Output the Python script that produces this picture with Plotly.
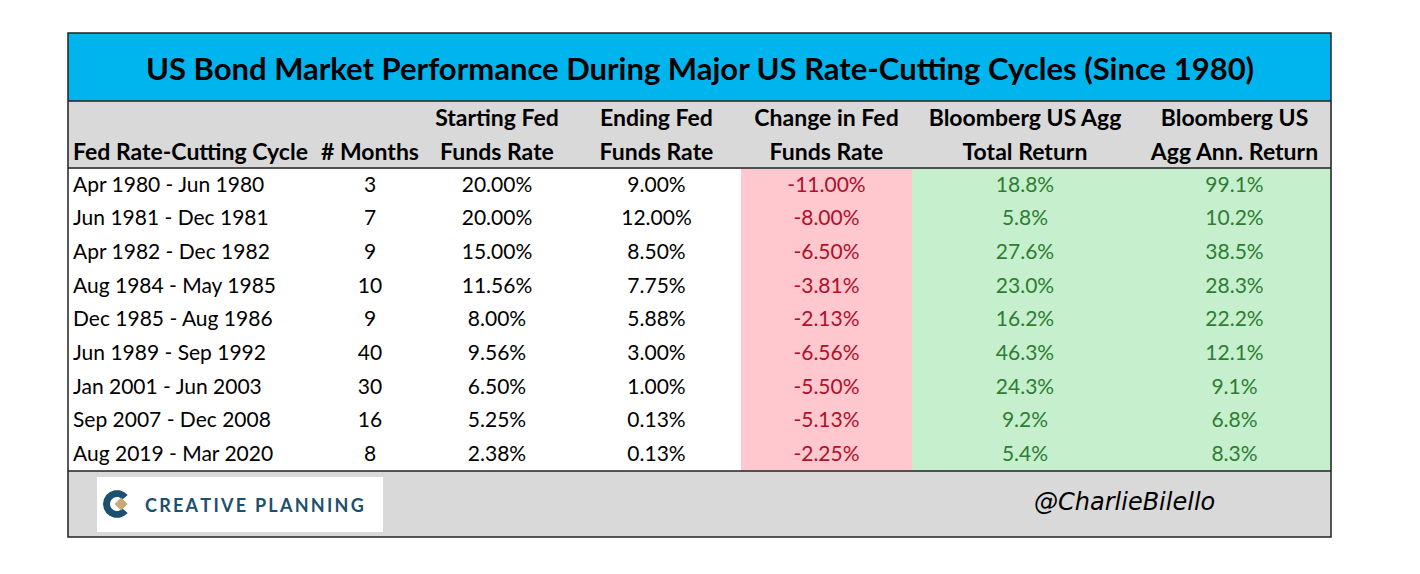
import math
import plotly.graph_objects as go

# ---------------- data ----------------
title = "US Bond Market Performance During Major US Rate-Cutting Cycles (Since 1980)"
header_top = ["", "", "Starting Fed", "Ending Fed", "Change in Fed",
              "Bloomberg US Agg", "Bloomberg US"]
header_bottom = ["Fed Rate-Cutting Cycle", "# Months", "Funds Rate", "Funds Rate",
                 "Funds Rate", "Total Return", "Agg Ann. Return"]
cycles = ["Apr 1980 - Jun 1980", "Jun 1981 - Dec 1981", "Apr 1982 - Dec 1982",
          "Aug 1984 - May 1985", "Dec 1985 - Aug 1986", "Jun 1989 - Sep 1992",
          "Jan 2001 - Jun 2003", "Sep 2007 - Dec 2008", "Aug 2019 - Mar 2020"]
months = [3, 7, 9, 10, 9, 40, 30, 16, 8]
start_rate = [20.00, 20.00, 15.00, 11.56, 8.00, 9.56, 6.50, 5.25, 2.38]
end_rate = [9.00, 12.00, 8.50, 7.75, 5.88, 3.00, 1.00, 0.13, 0.13]
change_rate = [-11.00, -8.00, -6.50, -3.81, -2.13, -6.56, -5.50, -5.13, -2.25]
total_return = [18.8, 5.8, 27.6, 23.0, 16.2, 46.3, 24.3, 9.2, 5.4]
ann_return = [99.1, 10.2, 38.5, 28.3, 22.2, 12.1, 9.1, 6.8, 8.3]
handle = "@CharlieBilello"
logo_text = "CREATIVE PLANNING"

# ---------------- layout helpers ----------------
# page body has an 8px margin, so the figure is drawn 8px in from the window edge
OFF = 8
W, H = 1420 - 2 * OFF, 574 - 2 * OFF
def px(x):
    return (x - OFF) / W
def py(y):
    return 1 - (y - OFF) / H

FONT = "Lato"
BLUE = "#00B4EE"
GREY = "#D9D9D9"
RED_FILL, RED_TXT = "#FFC7CE", "#B0102A"
GRN_FILL, GRN_TXT = "#C6EFCE", "#2E7D32"

L, R, T, B = 68, 1331, 33, 537
T_HEAD, T_BODY, T_FOOT = 101, 168, 471
n_rows = len(cycles)
row_h = (T_FOOT - T_BODY) / n_rows
head_h = (T_BODY - T_HEAD) / 2

NB = "\u00a0"
def nowrap(s):
    # non-breaking spaces keep the table from wrapping the text
    return s.replace(" ", NB)

cells = [
    [nowrap(c) for c in cycles],
    [str(m) for m in months],
    [f"{v:.2f}%" for v in start_rate],
    [f"{v:.2f}%" for v in end_rate],
    [f"{v:.2f}%" for v in change_rate],
    [f"{v:.1f}%" for v in total_return],
    [f"{v:.1f}%" for v in ann_return],
]
header_vals = [[nowrap(a), nowrap(b)] for a, b in zip(header_top, header_bottom)]
col_fill = ["white"] * 4 + [RED_FILL, GRN_FILL, GRN_FILL]
col_txt = ["black"] * 4 + [RED_TXT, GRN_TXT, GRN_TXT]
aligns = ["left"] + ["center"] * 6

fig = go.Figure()
fig.add_trace(go.Table(
    domain=dict(x=[px(L - 3), px(R)], y=[py(T_FOOT + 3), py(T_HEAD)]),
    columnwidth=[253, 104, 150, 169, 171, 226, 193],
    header=dict(
        values=header_vals,
        fill_color=GREY,
        line=dict(color=GREY, width=1),
        align=aligns,
        font=dict(family=FONT, size=23, color="black", weight="bold"),
        height=head_h,
    ),
    cells=dict(
        values=cells,
        fill_color=col_fill,
        line=dict(color=col_fill, width=1),
        align=aligns,
        font=dict(family=FONT, size=21, color=col_txt),
        height=row_h,
    ),
))

shapes = [
    # cover for the small table overhang left of the frame
    dict(type="rect", xref="paper", yref="paper", x0=px(L - 6), x1=px(L), y0=py(B), y1=py(T),
         fillcolor="white", line=dict(width=0)),
    # title bar
    dict(type="rect", xref="paper", yref="paper", x0=px(L), x1=px(R), y0=py(T_HEAD), y1=py(T),
         fillcolor=BLUE, line=dict(width=0)),
    # footer
    dict(type="rect", xref="paper", yref="paper", x0=px(L), x1=px(R), y0=py(B), y1=py(T_FOOT),
         fillcolor=GREY, line=dict(width=0)),
    # logo box
    dict(type="rect", xref="paper", yref="paper", x0=px(97), x1=px(383), y0=py(532), y1=py(477),
         fillcolor="white", line=dict(width=0)),
]
for yy in (T_HEAD, T_BODY, T_FOOT):
    shapes.append(dict(type="line", xref="paper", yref="paper", x0=px(L), x1=px(R),
                       y0=py(yy), y1=py(yy), line=dict(color="#222222", width=1.5)))
shapes.append(dict(type="rect", xref="paper", yref="paper", x0=px(L), x1=px(R), y0=py(B), y1=py(T),
                   line=dict(color="#222222", width=1.5)))

# logo "C" mark and diamond
cx, cy, r_out, r_in = 117, 504, 14, 7
angs = [math.radians(a) for a in range(40, 321, 20)]
outer = [(cx + r_out * math.cos(a), cy - r_out * math.sin(a)) for a in angs]
inner = [(cx + r_in * math.cos(a), cy - r_in * math.sin(a)) for a in reversed(angs)]
pts = outer + inner
path = "M " + " L ".join(f"{px(x)},{py(y)}" for x, y in pts) + " Z"
shapes.append(dict(type="path", xref="paper", yref="paper", path=path,
                   fillcolor="#1D4F6E", line=dict(width=0)))
dcx, dcy, dr = 121, 504, 6.5
d_pts = [(dcx, dcy - dr), (dcx + dr, dcy), (dcx, dcy + dr), (dcx - dr, dcy)]
path_d = "M " + " L ".join(f"{px(x)},{py(y)}" for x, y in d_pts) + " Z"
shapes.append(dict(type="path", xref="paper", yref="paper", path=path_d,
                   fillcolor="#C9A978", line=dict(width=0)))

annotations = [
    dict(text=f"<b>{title}</b>", xref="paper", yref="paper", x=px((L + R) / 2), y=py(68),
         xanchor="center", yanchor="middle", showarrow=False,
         font=dict(family=FONT, size=31, color="black")),
    dict(text="<b>" + "\u2009".join(logo_text) + "</b>", xref="paper", yref="paper",
         x=px(143), y=py(505), xanchor="left", yanchor="middle", showarrow=False,
         font=dict(family=FONT, size=18, color="#1D4F6E")),
    dict(text=f"<i>{handle}</i>", xref="paper", yref="paper", x=px(1124), y=py(502),
         xanchor="center", yanchor="middle", showarrow=False,
         font=dict(family="DejaVu Sans", size=24, color="black")),
]

fig.update_layout(
    width=W, height=H,
    margin=dict(l=0, r=0, t=0, b=0),
    paper_bgcolor="white", plot_bgcolor="white",
    shapes=shapes, annotations=annotations,
    showlegend=False,
)

fig.write_html("out.html")
